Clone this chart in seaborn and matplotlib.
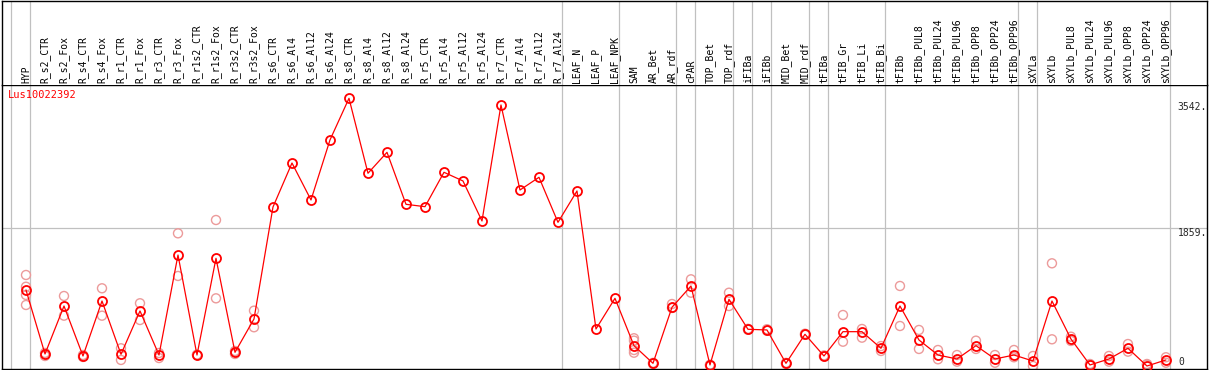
import numpy as np
import pandas as pd
import matplotlib
matplotlib.use('Agg')
import matplotlib.pyplot as plt
import seaborn as sns

# gene name and tissue list
gene = 'Lus10022392'
tissues = ['HYP', 'R_s2_CTR', 'R_s2_Fox', 'R_s4_CTR', 'R_s4_Fox', 'R_r1_CTR', 'R_r1_Fox',
           'R_r3_CTR', 'R_r3_Fox', 'R_r1s2_CTR', 'R_r1s2_Fox', 'R_r3s2_CTR', 'R_r3s2_Fox',
           'R_s6_CTR', 'R_s6_Al4', 'R_s6_Al12', 'R_s6_Al24', 'R_s8_CTR', 'R_s8_Al4',
           'R_s8_Al12', 'R_s8_Al24', 'R_r5_CTR', 'R_r5_Al4', 'R_r5_Al12', 'R_r5_Al24',
           'R_r7_CTR', 'R_r7_Al4', 'R_r7_Al12', 'R_r7_Al24', 'LEAF_N', 'LEAF_P', 'LEAF_NPK',
           'SAM', 'AR_Bet', 'AR_rdf', 'cPAR', 'TOP_Bet', 'TOP_rdf', 'iFIBa', 'iFIBb',
           'MID_Bet', 'MID_rdf', 'tFIBa', 'tFIB_Gr', 'tFIB_Li', 'tFIB_Bi', 'tFIBb',
           'tFIBb_PUL8', 'tFIBb_PUL24', 'tFIBb_PUL96', 'tFIBb_OPP8', 'tFIBb_OPP24', 'tFIBb_OPP96',
           'sXYLa', 'sXYLb', 'sXYLb_PUL8', 'sXYLb_PUL24', 'sXYLb_PUL96', 'sXYLb_OPP8',
           'sXYLb_OPP24', 'sXYLb_OPP96']

# mean expression per tissue
means = [1029, 174, 815, 147, 882, 170, 749, 160, 1497, 160, 1453, 196, 642,
         2139, 2727, 2233, 3035, 3592, 2590, 2870, 2175, 2143, 2603, 2487, 1952,
         3503, 2366, 2536, 1934, 2353, 508, 918,
         285, 49, 798, 1083, 27, 905, 504, 495, 49, 437, 147, 472, 472, 250, 815,
         361, 160, 107, 285, 107, 160, 80, 882, 374, 27, 107, 250, 13, 94]

# replicate values (empty = hidden under the mean)
reps = [[1230, 1073, 963, 829], [188, 147], [949, 686], [160, 134], [1052, 686],
        [250, 94], [852, 628], [187, 120], [1787, 1217], [160, 165], [1965, 918],
        [214, 174], [753, 531],
        [], [], [], [], [], [], [], [], [], [], [], [], [], [], [], [], [], [], [],
        [384, 352, 227, 191], [55, 43], [842, 789], [1172, 993], [30, 22], [993, 815],
        [510, 498], [505, 485], [55, 43], [445, 430], [155, 140], [695, 338], [508, 392],
        [280, 214], [1083, 548], [495, 241], [227, 103], [160, 71], [352, 241], [160, 57],
        [227, 130], [147, 13], [1386, 370], [405, 348], [40, 30], [147, 71], [307, 205],
        [40, 30], [130, 57]]

group_ends = [-1, 0, 28, 31, 34, 35, 37, 38, 39, 41, 42, 45, 52, 53, 60]
y_ticks = [3542, 1859, 0]

pos = np.arange(len(tissues))
rep_df = pd.DataFrame([(i, v) for i, r in enumerate(reps) for v in r], columns=['pos', 'val'])

sns.set_style('white')
plt.rcParams['font.family'] = ['DejaVu Sans Mono', 'DejaVu Sans']

W, H = 1209, 370
fig = plt.figure(figsize=(W / 100, H / 100), dpi=100)
ax = fig.add_axes([2 / W, 1 / H, 1205 / W, 284 / H])
ax_lab = fig.add_axes([2 / W, 285 / H, 1205 / W, 84.5 / H], sharex=ax)

ax.set_xlim(-1.263, 62.16)
ax.set_ylim(-27, 3770)
ax_lab.set_ylim(0, 1)

for a in (ax, ax_lab):
    for g in group_ends:
        a.axvline(g + 0.23, color='#c0c0c0', lw=0.9, zorder=0)
    for s in a.spines.values():
        s.set_color('black')
        s.set_linewidth(1.0)
    a.set_xticks([])
    a.set_yticks([])
ax_lab.spines['bottom'].set_visible(False)

ax.axhline(1859, color='#c0c0c0', lw=0.9, zorder=0)

sns.scatterplot(data=rep_df, x='pos', y='val', ax=ax, marker='o', s=42,
                facecolors='none', edgecolor='#ec9a9a', color='#ec9a9a', linewidth=1.0, zorder=2)
sns.lineplot(x=pos, y=means, ax=ax, color='red', linewidth=0.9, marker='o', markersize=6.5,
             markerfacecolor='none', markeredgecolor='red', markeredgewidth=1.3, zorder=3)
ax.set_xlabel('')
ax.set_ylabel('')

for i, t in enumerate(tissues):
    ax_lab.text(i, 0.025, t, rotation=90, ha='center', va='bottom', fontsize=7, color='black')

ax.text(-0.95, 3700, gene, color='red', fontsize=7.5, ha='left', va='top')
for v in y_ticks:
    if v == 0:
        ax.text(60.65, v, '0', fontsize=7, ha='left', va='bottom')
    else:
        ax.text(60.62, v, f'{v}.', fontsize=7, ha='left', va='top')

fig.savefig('out.png', dpi=100)
